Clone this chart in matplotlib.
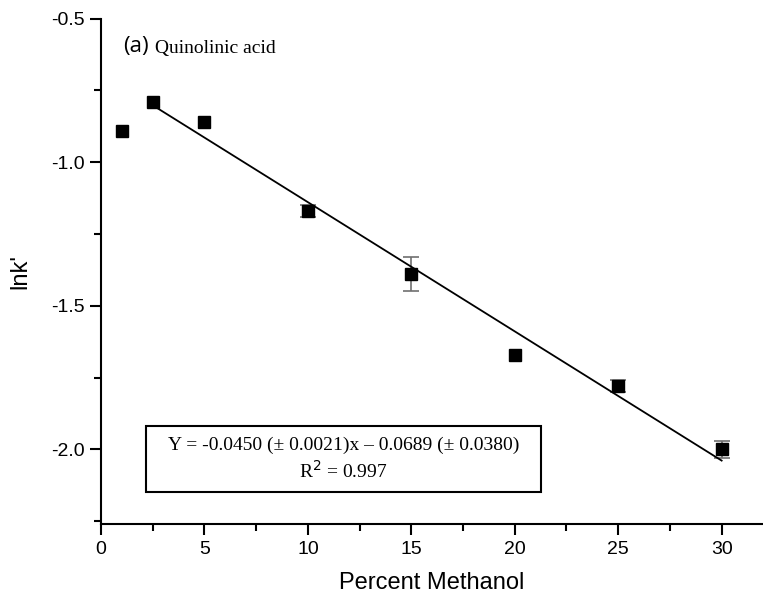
import matplotlib
matplotlib.use('Agg')
import matplotlib.pyplot as plt
from matplotlib.patches import Rectangle
from matplotlib.ticker import MultipleLocator, FormatStrFormatter

# data
methanol = [1, 2.5, 5, 10, 15, 20, 25, 30]
lnk = [-0.89, -0.79, -0.86, -1.17, -1.39, -1.67, -1.78, -2.00]
err = [0, 0, 0, 0.02, 0.06, 0, 0.02, 0.03]

slope = -0.0450
intercept = -0.689
fit_x = [2.5, 30]

eq_line = 'Y = -0.0450 (\u00b1 0.0021)x \u2013 0.0689 (\u00b1 0.0380)'
r2_line = 'R$^2$ = 0.997'

plt.rcParams['font.family'] = ['Liberation Sans', 'DejaVu Sans']
serif = ['Liberation Serif', 'DejaVu Serif']

fig = plt.figure(figsize=(7.63, 5.98), dpi=100)
ax = fig.add_axes([0.1324, 0.1237, 0.8676, 0.845])

# error bars only where there is an error
eb = [(x, y, e) for x, y, e in zip(methanol, lnk, err) if e > 0]
ax.errorbar([p[0] for p in eb], [p[1] for p in eb], yerr=[p[2] for p in eb],
            fmt='none', ecolor='#707070', elinewidth=1.2, capsize=6,
            capthick=1.2, zorder=2)
ax.plot(methanol, lnk, 's', color='black', ms=9, zorder=3)
fit_y = [slope * x + intercept for x in fit_x]
ax.plot(fit_x, fit_y, color='black', lw=1.3, zorder=2)

ax.set_xlim(0, 32)
ax.set_ylim(-2.26, -0.5)
ax.xaxis.set_major_locator(MultipleLocator(5))
ax.xaxis.set_minor_locator(MultipleLocator(2.5))
ax.yaxis.set_major_locator(MultipleLocator(0.5))
ax.yaxis.set_minor_locator(MultipleLocator(0.25))
ax.yaxis.set_major_formatter(FormatStrFormatter('%.1f'))
ax.spines['top'].set_visible(False)
ax.spines['right'].set_visible(False)
for s in ['left', 'bottom']:
    ax.spines[s].set_linewidth(1.5)
ax.tick_params(which='major', direction='out', length=8, width=1.5, labelsize=14, pad=4)
ax.tick_params(which='minor', direction='out', length=5, width=1.5)

ax.set_xlabel('Percent Methanol', fontsize=17, labelpad=10)
ax.set_ylabel("lnk'", fontsize=17, labelpad=14)

ax.text(0.033, 0.945, '(a)', transform=ax.transAxes, fontsize=16,
        family=['Open Sans', 'DejaVu Sans'], va='center')
ax.text(0.082, 0.942, 'Quinolinic acid', transform=ax.transAxes, fontsize=14,
        family=serif, va='center')

ax.add_patch(Rectangle((0.068, 0.063), 0.597, 0.131, transform=ax.transAxes,
                       fill=False, edgecolor='black', lw=1.5, zorder=4))
ax.text(0.3665, 0.156, eq_line, transform=ax.transAxes, fontsize=14,
        family=serif, ha='center', va='center')
ax.text(0.3665, 0.106, r2_line, transform=ax.transAxes, fontsize=14,
        family=serif, ha='center', va='center')

fig.savefig('out.png', dpi=100)
